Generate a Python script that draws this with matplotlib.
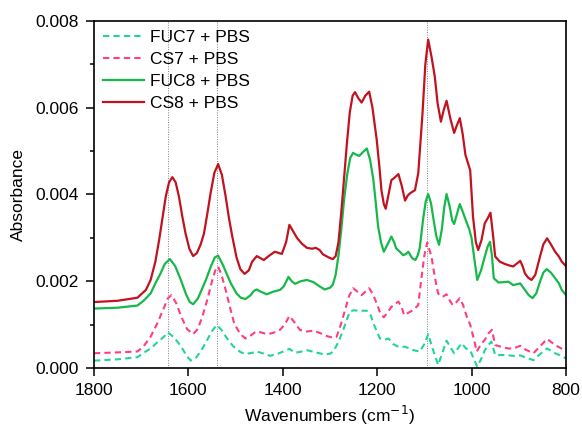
import numpy as np
import matplotlib
matplotlib.use("Agg")
import matplotlib.pyplot as plt
from matplotlib.ticker import MultipleLocator

plt.rcParams["font.family"] = ["Liberation Sans", "DejaVu Sans"]

# CS8 + PBS (kırmızı, düz çizgi)
cs8_w = [1800, 1750, 1708, 1690, 1680, 1670, 1662, 1655, 1648, 1641, 1634, 1627, 1620, 1613,
         1606, 1598, 1590, 1582, 1574, 1567, 1560, 1553, 1545, 1537, 1529, 1521, 1514, 1507,
         1498, 1490, 1481, 1472, 1465, 1455, 1447, 1440, 1430, 1417, 1402, 1393, 1386, 1378,
         1370, 1360, 1349, 1338, 1330, 1322, 1315, 1303, 1294, 1288, 1282, 1276, 1270, 1264,
         1258, 1252, 1247, 1240, 1233, 1225, 1217, 1210, 1201, 1195, 1191, 1186, 1182, 1176,
         1170, 1164, 1155, 1148, 1141, 1135, 1130, 1120, 1113, 1104, 1098, 1092, 1085, 1078,
         1072, 1065, 1059, 1053, 1045, 1037, 1031, 1025, 1019, 1013, 1003, 997, 991, 986,
         979, 972, 966, 960, 955, 950, 940, 930, 922, 912, 905, 897, 892, 887, 880, 873,
         865, 855, 848, 840, 832, 823, 815, 809, 800]
cs8_a = [0.00152, 0.00155, 0.00162, 0.00180, 0.00203, 0.00245, 0.00295, 0.00345, 0.00395,
         0.00428, 0.00440, 0.00428, 0.00395, 0.00350, 0.00310, 0.00275, 0.00258, 0.00265,
         0.00285, 0.00310, 0.00355, 0.00403, 0.00450, 0.00470, 0.00445, 0.00395, 0.00345,
         0.00303, 0.00255, 0.00228, 0.00217, 0.00225, 0.00245, 0.00258, 0.00253, 0.00249,
         0.00258, 0.00268, 0.00263, 0.00290, 0.00330, 0.00315, 0.00300, 0.00287, 0.00277,
         0.00275, 0.00277, 0.00272, 0.00262, 0.00255, 0.00251, 0.00258, 0.00290, 0.00360,
         0.00440, 0.00520, 0.00590, 0.00628, 0.00636, 0.00622, 0.00612, 0.00628, 0.00637,
         0.00600, 0.00526, 0.00460, 0.00410, 0.00378, 0.00367, 0.00400, 0.00433, 0.00438,
         0.00447, 0.00420, 0.00386, 0.00398, 0.00403, 0.00410, 0.00449, 0.00587, 0.00700,
         0.00757, 0.00718, 0.00672, 0.00610, 0.00568, 0.00595, 0.00616, 0.00575, 0.00542,
         0.00560, 0.00576, 0.00540, 0.00491, 0.00456, 0.00349, 0.00290, 0.00272, 0.00295,
         0.00334, 0.00345, 0.00358, 0.00310, 0.00257, 0.00245, 0.00240, 0.00237, 0.00234,
         0.00240, 0.00247, 0.00235, 0.00218, 0.00208, 0.00203, 0.00215, 0.00257, 0.00285,
         0.00299, 0.00285, 0.00268, 0.00257, 0.00245, 0.00235]

# FUC8 + PBS (yeşil, düz çizgi)
fuc8_w = [1800, 1750, 1708, 1695, 1680, 1670, 1659, 1650, 1639, 1628, 1616, 1605, 1597, 1590,
          1580, 1572, 1563, 1552, 1544, 1537, 1528, 1518, 1510, 1498, 1489, 1479, 1468, 1461,
          1455, 1447, 1434, 1420, 1406, 1398, 1388, 1381, 1374, 1362, 1349, 1335, 1322, 1311,
          1300, 1294, 1288, 1282, 1276, 1270, 1263, 1257, 1251, 1245, 1238, 1230, 1222, 1215,
          1208, 1203, 1198, 1192, 1186, 1178, 1170, 1164, 1160, 1152, 1145, 1139, 1134, 1126,
          1119, 1114, 1110, 1102, 1097, 1092, 1086, 1081, 1075, 1069, 1063, 1058, 1053, 1047,
          1041, 1037, 1031, 1025, 1018, 1010, 1005, 1000, 994, 988, 980, 972, 966, 961, 957,
          953, 943, 932, 922, 912, 905, 897, 887, 879, 871, 863, 855, 848, 841, 832, 823,
          815, 809, 800]
fuc8_a = [0.00137, 0.00139, 0.00144, 0.00155, 0.00172, 0.00195, 0.00218, 0.00240, 0.00251,
          0.00235, 0.00203, 0.00170, 0.00152, 0.00147, 0.00160, 0.00180, 0.00203, 0.00235,
          0.00255, 0.00259, 0.00240, 0.00215, 0.00195, 0.00172, 0.00162, 0.00159, 0.00168,
          0.00178, 0.00181, 0.00176, 0.00170, 0.00176, 0.00180, 0.00188, 0.00210, 0.00200,
          0.00194, 0.00200, 0.00203, 0.00198, 0.00188, 0.00181, 0.00185, 0.00192, 0.00215,
          0.00260, 0.00320, 0.00390, 0.00450, 0.00485, 0.00496, 0.00492, 0.00489, 0.00498,
          0.00506, 0.00480, 0.00433, 0.00380, 0.00326, 0.00290, 0.00268, 0.00285, 0.00303,
          0.00290, 0.00276, 0.00268, 0.00260, 0.00263, 0.00268, 0.00253, 0.00249, 0.00260,
          0.00276, 0.00349, 0.00385, 0.00401, 0.00380, 0.00345, 0.00305, 0.00284, 0.00320,
          0.00370, 0.00401, 0.00375, 0.00340, 0.00332, 0.00355, 0.00378, 0.00358, 0.00334,
          0.00320, 0.00299, 0.00250, 0.00203, 0.00225, 0.00257, 0.00280, 0.00291, 0.00260,
          0.00207, 0.00197, 0.00198, 0.00199, 0.00191, 0.00193, 0.00195, 0.00180, 0.00168,
          0.00161, 0.00172, 0.00199, 0.00220, 0.00228, 0.00220, 0.00207, 0.00195, 0.00180,
          0.00168]

# CS7 + PBS (pembe, kesikli)
cs7_w = [1800, 1750, 1708, 1695, 1680, 1665, 1652, 1644, 1636, 1626, 1615, 1603, 1590, 1580,
         1570, 1560, 1550, 1542, 1537, 1530, 1521, 1512, 1503, 1490, 1479, 1468, 1458, 1452,
         1440, 1431, 1418, 1406, 1396, 1386, 1375, 1364, 1350, 1334, 1320, 1305, 1294, 1286,
         1277, 1268, 1260, 1251, 1242, 1233, 1225, 1217, 1209, 1201, 1193, 1186, 1178, 1170,
         1162, 1155, 1148, 1143, 1133, 1123, 1113, 1106, 1100, 1094, 1085, 1078, 1071, 1065,
         1060, 1053, 1046, 1040, 1032, 1025, 1018, 1010, 1003, 996, 989, 980, 972, 964, 957,
         950, 935, 922, 912, 897, 885, 869, 855, 840, 823, 810, 800]
cs7_a = [0.00034, 0.00036, 0.00038, 0.00050, 0.00072, 0.00105, 0.00138, 0.00160, 0.00168,
         0.00150, 0.00118, 0.00090, 0.00078, 0.00090, 0.00120, 0.00157, 0.00200, 0.00228,
         0.00234, 0.00215, 0.00180, 0.00140, 0.00103, 0.00078, 0.00068, 0.00075, 0.00083,
         0.00084, 0.00080, 0.00078, 0.00082, 0.00088, 0.00100, 0.00120, 0.00105, 0.00088,
         0.00084, 0.00086, 0.00080, 0.00073, 0.00070, 0.00072, 0.00100, 0.00134, 0.00165,
         0.00184, 0.00176, 0.00168, 0.00176, 0.00184, 0.00170, 0.00149, 0.00125, 0.00117,
         0.00128, 0.00141, 0.00148, 0.00153, 0.00140, 0.00122, 0.00128, 0.00134, 0.00145,
         0.00210, 0.00260, 0.00289, 0.00257, 0.00210, 0.00172, 0.00165, 0.00165, 0.00170,
         0.00155, 0.00145, 0.00152, 0.00161, 0.00145, 0.00118, 0.00100, 0.00070, 0.00038,
         0.00055, 0.00065, 0.00080, 0.00088, 0.00053, 0.00048, 0.00045, 0.00045, 0.00051,
         0.00042, 0.00034, 0.00050, 0.00067, 0.00053, 0.00045, 0.00040]

# FUC7 + PBS (turkuaz, kesikli)
fuc7_w = [1800, 1750, 1708, 1695, 1680, 1665, 1652, 1643, 1630, 1615, 1605, 1595, 1585, 1573,
          1560, 1550, 1540, 1530, 1518, 1505, 1490, 1479, 1465, 1455, 1440, 1427, 1410, 1395,
          1386, 1374, 1360, 1349, 1330, 1311, 1300, 1293, 1282, 1272, 1258, 1250, 1240, 1222,
          1215, 1208, 1200, 1194, 1185, 1176, 1166, 1155, 1141, 1123, 1110, 1099, 1092, 1085,
          1078, 1071, 1062, 1053, 1045, 1037, 1029, 1021, 1012, 1003, 995, 988, 980, 972,
          965, 958, 950, 935, 922, 910, 897, 885, 869, 855, 840, 823, 810, 800]
fuc7_a = [0.00017, 0.00020, 0.00025, 0.00035, 0.00045, 0.00060, 0.00072, 0.00082, 0.00070,
          0.00049, 0.00030, 0.00017, 0.00022, 0.00040, 0.00065, 0.00085, 0.00099, 0.00088,
          0.00068, 0.00050, 0.00037, 0.00032, 0.00035, 0.00038, 0.00033, 0.00028, 0.00033,
          0.00040, 0.00044, 0.00035, 0.00038, 0.00041, 0.00036, 0.00031, 0.00033, 0.00038,
          0.00060, 0.00088, 0.00130, 0.00133, 0.00132, 0.00132, 0.00125, 0.00103, 0.00082,
          0.00068, 0.00065, 0.00068, 0.00055, 0.00049, 0.00049, 0.00041, 0.00038, 0.00057,
          0.00078, 0.00053, 0.00030, 0.00007, 0.00035, 0.00063, 0.00048, 0.00034, 0.00045,
          0.00057, 0.00045, 0.00041, 0.00020, 0.00003, 0.00020, 0.00041, 0.00052, 0.00061,
          0.00030, 0.00030, 0.00029, 0.00028, 0.00029, 0.00024, 0.00018, 0.00032, 0.00045,
          0.00034, 0.00028, 0.00022]

# işaretli bantlar
bantlar = [1643, 1539, 1094]

fig = plt.figure(figsize=(5.82, 4.30), dpi=100)
ax = fig.add_axes([0.1615, 0.1442, 0.811, 0.807])

for b in bantlar:
    ax.axvline(b, color="0.5", lw=0.7, ls=(0, (1, 1.5)), zorder=1)

ax.plot(fuc7_w, fuc7_a, color="#22d49a", lw=1.5, ls=(0, (3, 2)), label="FUC7 + PBS")
ax.plot(cs7_w, cs7_a, color="#ff3d7f", lw=1.5, ls=(0, (3, 2)), label="CS7 + PBS")
ax.plot(fuc8_w, fuc8_a, color="#17b84a", lw=1.6, label="FUC8 + PBS")
ax.plot(cs8_w, cs8_a, color="#c1121f", lw=1.6, label="CS8 + PBS")

ax.set_xlim(1800, 800)
ax.set_ylim(0, 0.008)
ax.xaxis.set_major_locator(MultipleLocator(200))
ax.yaxis.set_major_locator(MultipleLocator(0.002))
ax.yaxis.set_minor_locator(MultipleLocator(0.001))
ax.tick_params(axis="both", which="major", direction="out", length=6, width=1.1,
               labelsize=12.5, pad=5)
ax.tick_params(axis="y", which="minor", direction="out", length=3, width=1.1)
for s in ax.spines.values():
    s.set_linewidth(1.2)

ax.set_xlabel("Wavenumbers (cm$^{-1}$)", fontsize=12.5, labelpad=4)
ax.set_ylabel("Absorbance", fontsize=12.5, labelpad=7)

ax.legend(loc="upper left", frameon=False, fontsize=12.5, handlelength=2.4,
          handletextpad=0.3, labelspacing=0.4, borderaxespad=0.1,
          bbox_to_anchor=(0.0, 1.0))

fig.savefig("out.png", dpi=100)
